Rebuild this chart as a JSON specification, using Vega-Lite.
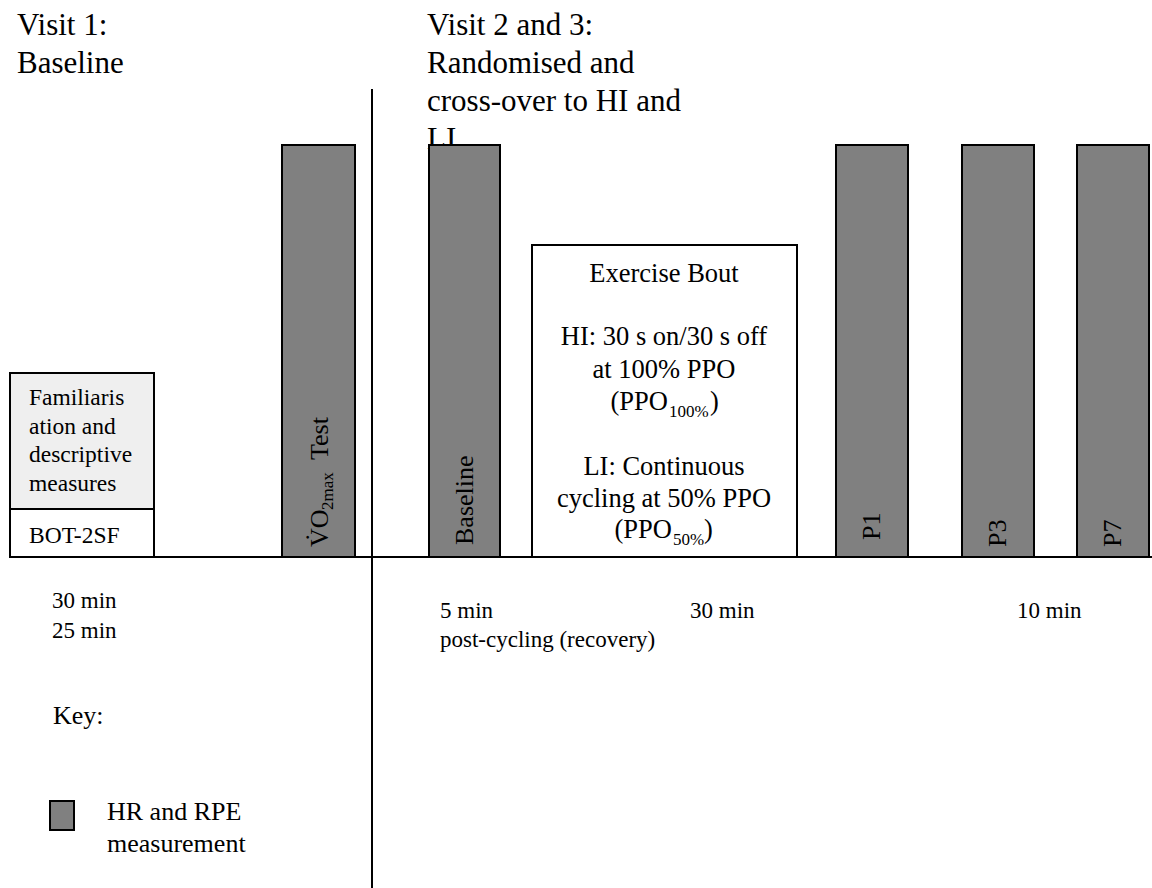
{
  "$schema": "https://vega.github.io/schema/vega-lite/v6.json",
  "width": 1152,
  "height": 888,
  "autosize": {"type": "none"},
  "padding": 0,
  "background": "white",
  "config": {"view": {"stroke": null}, "text": {"font": "'Liberation Serif', 'Times New Roman', Times, 'DejaVu Serif', serif", "color": "black"}},
  "datasets": {
    "header": [
      {"x": 17, "y": 35, "t": "Visit 1:"},
      {"x": 17, "y": 73, "t": "Baseline"},
      {"x": 427, "y": 35, "t": "Visit 2 and 3:"},
      {"x": 427, "y": 73, "t": "Randomised and"},
      {"x": 427, "y": 111, "t": "cross-over to HI and"},
      {"x": 427, "y": 149, "t": "LI"}
    ],
    "lines": [
      {"x": 372, "y": 89, "x2": 372, "y2": 888},
      {"x": 9, "y": 557, "x2": 1152, "y2": 557}
    ],
    "boxes": [
      {"name": "Familiarisation", "role": "familiar", "x": 10, "x2": 154, "y": 373, "y2": 509},
      {"name": "BOT-2SF", "role": "plain", "x": 10, "x2": 154, "y": 509, "y2": 557},
      {"name": "VO2max Test", "role": "measure", "x": 282, "x2": 355, "y": 145, "y2": 557},
      {"name": "Baseline", "role": "measure", "x": 429, "x2": 500, "y": 145, "y2": 557},
      {"name": "Exercise Bout", "role": "plain", "x": 532, "x2": 797, "y": 245, "y2": 557},
      {"name": "P1", "role": "measure", "x": 836, "x2": 908, "y": 145, "y2": 557},
      {"name": "P3", "role": "measure", "x": 962, "x2": 1034, "y": 145, "y2": 557},
      {"name": "P7", "role": "measure", "x": 1077, "x2": 1149, "y": 145, "y2": 557},
      {"name": "Key swatch", "role": "measure", "x": 50, "x2": 74, "y": 801, "y2": 830}
    ],
    "boxText": [
      {"x": 29, "y": 405, "t": "Familiaris"},
      {"x": 29, "y": 434, "t": "ation and"},
      {"x": 29, "y": 462, "t": "descriptive"},
      {"x": 29, "y": 491, "t": "measures"},
      {"x": 29, "y": 543, "t": "BOT-2SF"}
    ],
    "exercise": [
      {"x": 664, "y": 282, "t": "Exercise Bout"},
      {"x": 664, "y": 345, "t": "HI: 30 s on/30 s off"},
      {"x": 664, "y": 378, "t": "at 100% PPO"},
      {"x": 664, "y": 475, "t": "LI: Continuous"},
      {"x": 664, "y": 507, "t": "cycling at 50% PPO"}
    ],
    "parenOpen": [
      {"x": 668, "y": 410, "t": "(PPO"},
      {"x": 672, "y": 538, "t": "(PPO"}
    ],
    "parenClose": [
      {"x": 710, "y": 410, "t": ")"},
      {"x": 704, "y": 538, "t": ")"}
    ],
    "subs": [
      {"x": 669, "y": 417, "t": "100%"},
      {"x": 673, "y": 545, "t": "50%"}
    ],
    "small": [
      {"x": 52, "y": 608, "t": "30 min"},
      {"x": 52, "y": 638, "t": "25 min"},
      {"x": 440, "y": 618, "t": "5 min"},
      {"x": 440, "y": 647, "t": "post-cycling (recovery)"},
      {"x": 690, "y": 618, "t": "30 min"},
      {"x": 1017, "y": 618, "t": "10 min"}
    ],
    "key": [
      {"x": 53, "y": 724, "t": "Key:"},
      {"x": 107, "y": 820, "t": "HR and RPE"},
      {"x": 107, "y": 852, "t": "measurement"}
    ],
    "rotated": [
      {"x": 328, "y": 547, "t": "V̇O"},
      {"x": 328, "y": 460, "t": "Test"},
      {"x": 473, "y": 545, "t": "Baseline"},
      {"x": 880, "y": 540, "t": "P1"},
      {"x": 1006, "y": 547, "t": "P3"},
      {"x": 1121, "y": 547, "t": "P7"}
    ],
    "rotatedSub": [
      {"x": 333, "y": 510, "t": "2max"}
    ]
  },
  "layer": [
    {
      "data": {"name": "header"},
      "mark": {"type": "text", "align": "left", "baseline": "alphabetic", "fontSize": 31},
      "encoding": {
        "x": {"field": "x", "type": "quantitative", "scale": {"domain": [0, 1152], "nice": false, "zero": false}, "axis": null},
        "y": {"field": "y", "type": "quantitative", "scale": {"domain": [0, 888], "nice": false, "zero": false, "reverse": true}, "axis": null},
        "text": {"field": "t"}
      }
    },
    {
      "data": {"name": "lines"},
      "mark": {"type": "rule", "color": "black", "strokeWidth": 2},
      "encoding": {
        "x": {"field": "x", "type": "quantitative"},
        "x2": {"field": "x2"},
        "y": {"field": "y", "type": "quantitative"},
        "y2": {"field": "y2"}
      }
    },
    {
      "data": {"name": "boxes"},
      "mark": {"type": "rect", "stroke": "black", "strokeWidth": 2, "opacity": 1},
      "encoding": {
        "x": {"field": "x", "type": "quantitative"},
        "x2": {"field": "x2"},
        "y": {"field": "y", "type": "quantitative"},
        "y2": {"field": "y2"},
        "fill": {"field": "role", "type": "nominal", "scale": {"domain": ["measure", "familiar", "plain"], "range": ["#808080", "#efefef", "#ffffff"]}, "legend": null}
      }
    },
    {
      "data": {"name": "boxText"},
      "mark": {"type": "text", "align": "left", "baseline": "alphabetic", "fontSize": 23.5},
      "encoding": {
        "x": {"field": "x", "type": "quantitative"},
        "y": {"field": "y", "type": "quantitative"},
        "text": {"field": "t"}
      }
    },
    {
      "data": {"name": "exercise"},
      "mark": {"type": "text", "align": "center", "baseline": "alphabetic", "fontSize": 26.5},
      "encoding": {
        "x": {"field": "x", "type": "quantitative"},
        "y": {"field": "y", "type": "quantitative"},
        "text": {"field": "t"}
      }
    },
    {
      "data": {"name": "parenOpen"},
      "mark": {"type": "text", "align": "right", "baseline": "alphabetic", "fontSize": 26.5},
      "encoding": {
        "x": {"field": "x", "type": "quantitative"},
        "y": {"field": "y", "type": "quantitative"},
        "text": {"field": "t"}
      }
    },
    {
      "data": {"name": "parenClose"},
      "mark": {"type": "text", "align": "left", "baseline": "alphabetic", "fontSize": 26.5},
      "encoding": {
        "x": {"field": "x", "type": "quantitative"},
        "y": {"field": "y", "type": "quantitative"},
        "text": {"field": "t"}
      }
    },
    {
      "data": {"name": "subs"},
      "mark": {"type": "text", "align": "left", "baseline": "alphabetic", "fontSize": 17},
      "encoding": {
        "x": {"field": "x", "type": "quantitative"},
        "y": {"field": "y", "type": "quantitative"},
        "text": {"field": "t"}
      }
    },
    {
      "data": {"name": "small"},
      "mark": {"type": "text", "align": "left", "baseline": "alphabetic", "fontSize": 23},
      "encoding": {
        "x": {"field": "x", "type": "quantitative"},
        "y": {"field": "y", "type": "quantitative"},
        "text": {"field": "t"}
      }
    },
    {
      "data": {"name": "key"},
      "mark": {"type": "text", "align": "left", "baseline": "alphabetic", "fontSize": 26},
      "encoding": {
        "x": {"field": "x", "type": "quantitative"},
        "y": {"field": "y", "type": "quantitative"},
        "text": {"field": "t"}
      }
    },
    {
      "data": {"name": "rotated"},
      "mark": {"type": "text", "align": "left", "baseline": "alphabetic", "fontSize": 26, "angle": 270},
      "encoding": {
        "x": {"field": "x", "type": "quantitative"},
        "y": {"field": "y", "type": "quantitative"},
        "text": {"field": "t"}
      }
    },
    {
      "data": {"name": "rotatedSub"},
      "mark": {"type": "text", "align": "left", "baseline": "alphabetic", "fontSize": 17, "angle": 270},
      "encoding": {
        "x": {"field": "x", "type": "quantitative"},
        "y": {"field": "y", "type": "quantitative"},
        "text": {"field": "t"}
      }
    }
  ]
}
